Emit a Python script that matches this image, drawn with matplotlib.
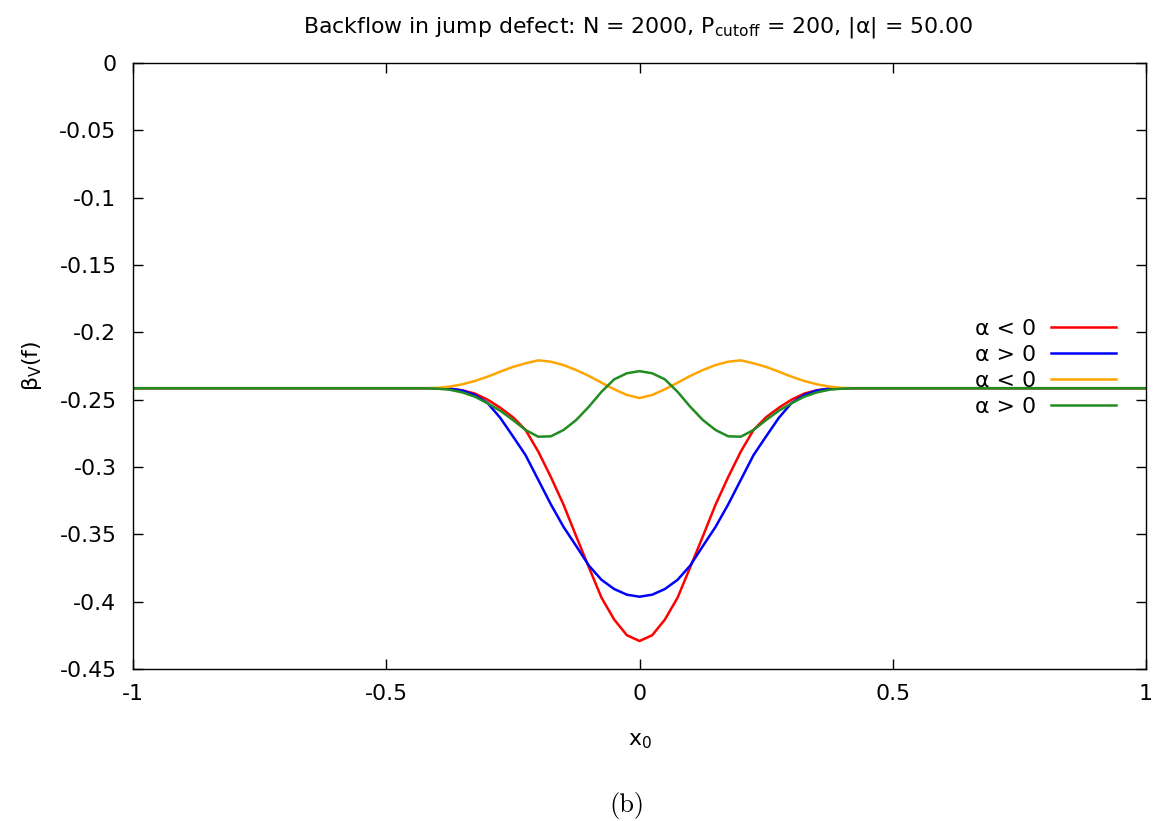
import numpy as np
import matplotlib
matplotlib.use("Agg")
import matplotlib.pyplot as plt

plt.rcParams['font.family'] = ['DejaVu Sans']
plt.rcParams['axes.unicode_minus'] = False
plt.rcParams['mathtext.default'] = 'regular'

# x positions of the sampled points (flat baseline outside |x0| < 0.45)
x0 = [-1.0, -0.45, -0.425, -0.4, -0.375, -0.35, -0.325, -0.3, -0.275, -0.25,
      -0.225, -0.2, -0.175, -0.15, -0.125, -0.1, -0.075, -0.05, -0.025, 0.0,
      0.025, 0.05, 0.075, 0.1, 0.125, 0.15, 0.175, 0.2, 0.225, 0.25,
      0.275, 0.3, 0.325, 0.35, 0.375, 0.4, 0.425, 0.45, 1.0]

red = [-0.2415, -0.2415, -0.2415, -0.2415, -0.2418, -0.2430, -0.2455, -0.2500, -0.2560, -0.2630,
       -0.2725, -0.2885, -0.3075, -0.3280, -0.3515, -0.3745, -0.3971, -0.4133, -0.4249, -0.4292,
       -0.4249, -0.4133, -0.3971, -0.3745, -0.3515, -0.3280, -0.3075, -0.2885, -0.2725, -0.2630,
       -0.2560, -0.2500, -0.2455, -0.2430, -0.2418, -0.2415, -0.2415, -0.2415, -0.2415]

blue = [-0.2415, -0.2415, -0.2415, -0.2415, -0.2418, -0.2432, -0.2465, -0.2525, -0.2635, -0.2772,
        -0.2912, -0.3095, -0.3278, -0.3445, -0.3587, -0.3732, -0.3838, -0.3906, -0.3948, -0.3963,
        -0.3948, -0.3906, -0.3838, -0.3732, -0.3587, -0.3445, -0.3278, -0.3095, -0.2912, -0.2772,
        -0.2635, -0.2525, -0.2465, -0.2432, -0.2418, -0.2415, -0.2415, -0.2415, -0.2415]

orange = [-0.2415, -0.2415, -0.2415, -0.2413, -0.2403, -0.2386, -0.2361, -0.2329, -0.2292, -0.2257,
          -0.2230, -0.2208, -0.2218, -0.2243, -0.2280, -0.2324, -0.2374, -0.2423, -0.2465, -0.2488,
          -0.2465, -0.2423, -0.2374, -0.2324, -0.2280, -0.2243, -0.2218, -0.2208, -0.2230, -0.2257,
          -0.2292, -0.2329, -0.2361, -0.2386, -0.2403, -0.2413, -0.2415, -0.2415, -0.2415]

green = [-0.2415, -0.2415, -0.2415, -0.2418, -0.2426, -0.2446, -0.2478, -0.2527, -0.2582, -0.2651,
         -0.2725, -0.2775, -0.2772, -0.2725, -0.2651, -0.2552, -0.2441, -0.2349, -0.2304, -0.2288,
         -0.2304, -0.2349, -0.2441, -0.2552, -0.2651, -0.2725, -0.2772, -0.2775, -0.2725, -0.2651,
         -0.2582, -0.2527, -0.2478, -0.2446, -0.2426, -0.2418, -0.2415, -0.2415, -0.2415]

xticks = [-1, -0.5, 0, 0.5, 1]
xticklabels = ['-1', '-0.5', '0', '0.5', '1']
yticks = [0, -0.05, -0.1, -0.15, -0.2, -0.25, -0.3, -0.35, -0.4, -0.45]
yticklabels = ['0', '-0.05', '-0.1', '-0.15', '-0.2', '-0.25', '-0.3', '-0.35', '-0.4', '-0.45']

fig = plt.figure(figsize=(11.59, 8.21), dpi=100)
ax = fig.add_axes([0.1148, 0.1851, 0.8740, 0.7382])

ax.plot(x0, red, color='#ff0000', lw=1.8, label='α < 0')
ax.plot(x0, blue, color='#0000ff', lw=1.8, label='α > 0')
ax.plot(x0, orange, color='#ffa500', lw=1.8, label='α < 0')
ax.plot(x0, green, color='#228b22', lw=1.8, label='α > 0')

ax.set_xlim(-1, 1)
ax.set_ylim(-0.45, 0)
ax.set_xticks(xticks)
ax.set_xticklabels(xticklabels)
ax.set_yticks(yticks)
ax.set_yticklabels(yticklabels)
ax.tick_params(direction='in', length=7, width=1, labelsize=15.8,
               top=True, right=True)
ax.tick_params(axis='x', pad=11)
ax.tick_params(axis='y', pad=12)
for s in ax.spines.values():
    s.set_linewidth(1.0)

ax.set_xlabel('x$_0$', fontsize=15.8, labelpad=19)
ax.set_ylabel('β$_V$(f)', fontsize=15.8, labelpad=11)

fig.text(0.551, 0.967, 'Backflow in jump defect: N = 2000, P$_{cutoff}$ = 200, |α| = 50.00',
         ha='center', va='center', fontsize=15.8)

ax.legend(loc='center right', bbox_to_anchor=(0.981, 0.4967), frameon=False,
          markerfirst=False, fontsize=15.8, handlelength=2.95, handletextpad=0.7,
          labelspacing=0.27, borderpad=0)

fig.text(0.541, 0.019, '(b)', ha='center', va='center', fontsize=19, family='cmr10')

fig.savefig('out.png', dpi=100)
